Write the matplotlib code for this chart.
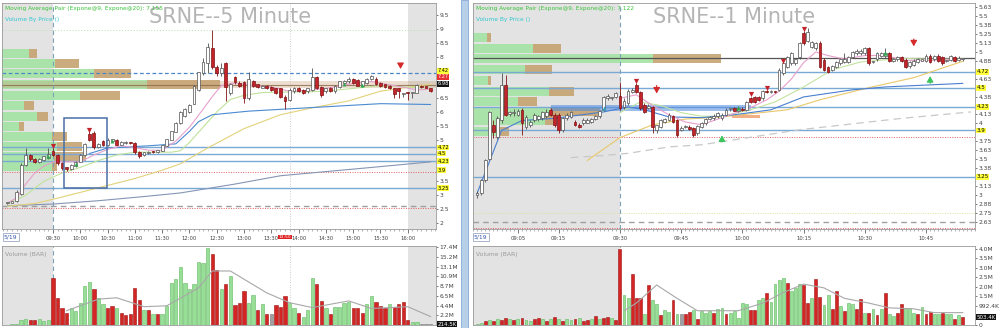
import numpy as np
import matplotlib
matplotlib.use('Agg')
import matplotlib.pyplot as plt
from matplotlib.patches import Rectangle
from matplotlib.ticker import FixedLocator, MultipleLocator, FuncFormatter
import matplotlib.transforms as mtrans

# ---------------- 5 minute chart (bar index, 0 = 09:30) ----------------
left_first = -10
left_open = [2.70, 2.72, 2.78, 3.05, 4.10, 4.45, 4.30, 4.20, 4.28, 4.35,
             4.60, 4.45, 4.15, 4.00, 3.95, 4.05, 4.20, 4.45, 5.20, 5.25,
             4.72, 4.95, 4.80, 4.95, 5.00, 4.82, 4.88, 4.90, 4.88, 4.55,
             4.45, 4.52, 4.58, 4.55, 4.60, 4.78, 5.00, 5.28, 5.60, 5.85,
             6.00, 6.30, 6.78, 7.39, 7.75, 8.30, 7.61, 7.40, 7.76, 6.70,
             7.25, 7.05, 7.07, 6.50, 7.10, 7.00, 6.88, 6.95, 6.90, 6.85,
             6.85, 6.55, 6.45, 6.75, 6.85, 6.80, 6.75, 6.80, 7.25, 6.90,
             6.75, 6.85, 6.75, 6.90, 7.05, 7.10, 7.20, 7.15, 6.95, 7.05,
             7.20, 7.20, 7.05, 7.00, 6.95, 6.85, 6.85, 6.65, 6.70, 6.68,
             6.70, 6.95, 6.92, 6.85]
left_high = [2.75, 2.80, 3.20, 4.15, 4.70, 4.50, 4.35, 4.35, 4.42, 4.70,
             4.70, 4.50, 4.20, 4.02, 4.12, 4.22, 4.48, 4.88, 5.30, 5.30,
             4.88, 4.98, 5.05, 5.04, 5.02, 4.94, 4.94, 4.92, 4.90, 4.58,
             4.57, 4.59, 4.60, 4.64, 4.82, 5.04, 5.32, 5.64, 6.02, 6.15,
             6.27, 6.98, 7.45, 7.95, 8.48, 8.95, 7.70, 7.75, 7.80, 7.05,
             7.30, 7.10, 7.10, 7.43, 7.15, 7.02, 6.98, 6.98, 6.92, 6.87,
             6.88, 6.60, 6.85, 6.90, 6.90, 6.82, 6.88, 7.57, 7.30, 6.95,
             6.88, 6.90, 6.98, 7.12, 7.15, 7.25, 7.22, 7.18, 7.12, 7.22,
             7.35, 7.25, 7.08, 7.02, 6.97, 6.88, 6.88, 6.70, 6.72, 6.72,
             7.00, 6.98, 6.94, 6.88]
left_low = [2.68, 2.70, 2.76, 3.00, 4.05, 4.25, 4.15, 4.15, 4.25, 4.30,
            4.40, 4.10, 3.92, 3.88, 3.92, 4.02, 4.18, 4.40, 4.95, 4.65,
            4.70, 4.78, 4.78, 4.92, 4.80, 4.80, 4.86, 4.86, 4.50, 4.35,
            4.43, 4.50, 4.52, 4.53, 4.58, 4.76, 4.98, 5.26, 5.58, 5.82,
            5.98, 6.28, 6.75, 7.35, 7.40, 7.55, 7.30, 7.30, 6.41, 6.60,
            7.00, 6.90, 6.34, 6.45, 6.90, 6.85, 6.85, 6.82, 6.75, 6.65,
            6.50, 6.12, 6.40, 6.70, 6.72, 6.65, 6.70, 6.75, 6.82, 6.55,
            6.70, 6.72, 6.70, 6.85, 7.00, 7.05, 7.00, 6.92, 6.90, 7.00,
            7.15, 6.98, 6.90, 6.85, 6.82, 6.50, 6.52, 6.55, 6.45, 6.50,
            6.68, 6.88, 6.86, 6.72]
left_close = [2.72, 2.78, 3.10, 4.10, 4.45, 4.30, 4.20, 4.30, 4.40, 4.50,
              4.45, 4.15, 3.98, 3.95, 4.10, 4.20, 4.45, 4.85, 5.00, 4.72,
              4.85, 4.80, 5.00, 5.02, 4.82, 4.92, 4.92, 4.88, 4.55, 4.42,
              4.55, 4.57, 4.54, 4.62, 4.80, 5.02, 5.30, 5.62, 6.00, 6.10,
              6.25, 6.95, 7.43, 7.79, 8.34, 7.61, 7.39, 7.60, 6.89, 7.00,
              7.07, 6.95, 6.49, 7.20, 6.95, 6.90, 6.95, 6.85, 6.80, 6.70,
              6.53, 6.40, 6.80, 6.85, 6.75, 6.70, 6.85, 7.25, 6.85, 6.60,
              6.85, 6.75, 6.95, 7.10, 7.10, 7.20, 7.05, 6.95, 7.10, 7.20,
              7.30, 7.00, 6.95, 6.90, 6.85, 6.65, 6.75, 6.68, 6.68, 6.70,
              6.98, 6.90, 6.88, 6.75]
left_vol = [0.10, 0.15, 0.30, 1.20, 1.40, 1.20, 1.20, 1.40, 1.00, 1.20,
            10.5, 6.1, 3.9, 2.8, 3.7, 3.2, 5.0, 8.8, 9.6, 8.1,
            6.1, 4.8, 3.9, 4.3, 3.7, 2.8, 2.3, 2.5, 8.3, 5.6,
            3.4, 3.4, 2.5, 2.5, 2.5, 4.3, 9.4, 10.3, 13.0, 9.4,
            8.1, 9.2, 14.1, 13.9, 17.2, 15.9, 12.3, 8.1, 9.2, 11.0,
            4.5, 5.0, 7.6, 5.0, 6.8, 3.4, 4.8, 2.5, 2.5, 4.5,
            4.1, 6.5, 5.0, 3.9, 2.8, 1.9, 3.4, 10.5, 9.2, 5.4,
            3.7, 2.5, 4.1, 4.1, 5.0, 5.2, 3.9, 3.7, 2.8, 4.8,
            6.5, 5.2, 4.3, 3.9, 4.8, 4.1, 4.8, 5.2, 1.2, 0.6,
            0.6, 0.3, 0.25, 0.2]
left_vol_col = ("gggggrrggg" "rrrrgggggr" "ggrrgrrrrr" "grgrgggggg" "gggggrrgrg"
                "rrrggrgrnr" "rrggrgggrr" "grggggrrrg" "grrrgrrrrg" "gnnn")
left_volma_k = [3, 10, 14, 20, 25, 32, 35, 39, 47, 52, 57, 65, 70, 78, 83]
left_volma = [3.2, 5.8, 6.1, 4.1, 4.3, 8.3, 12.1, 12.1, 7.2, 5.0, 3.9, 5.4, 3.7, 4.1, 1.9]

left_fast_k = [-10, -8, -6, -4, -2, 0, 3, 6, 9, 12, 15, 18, 21, 24, 27, 30, 33, 35, 37, 40,
               44, 48, 52, 56, 60, 65, 70, 75, 80, 83]
left_fast = [2.72, 2.90, 3.40, 3.80, 4.05, 4.20, 4.20, 4.20, 4.45, 4.65, 4.78, 4.72, 4.62, 4.62,
             4.95, 5.45, 6.10, 6.55, 6.95, 7.05, 6.95, 6.90, 6.75, 6.78, 6.85, 7.00, 7.10, 6.95,
             6.80, 6.82]
left_mid_k = [-10, -6, -2, 2, 6, 10, 14, 18, 22, 26, 28, 30, 33, 36, 39, 42, 46, 50, 55, 60,
              66, 72, 78, 83]
left_mid = [2.68, 3.00, 3.50, 3.80, 4.00, 4.25, 4.45, 4.55, 4.55, 4.55, 4.60, 4.90, 5.45, 6.00,
            6.45, 6.60, 6.70, 6.72, 6.72, 6.75, 6.85, 6.95, 6.90, 6.85]
left_slow_k = [-10, -4, 0, 6, 12, 18, 24, 28, 34, 42, 50, 57, 65, 72, 83]
left_slow = [2.60, 2.70, 2.85, 3.10, 3.35, 3.60, 3.90, 4.13, 4.70, 5.40, 5.90, 6.15, 6.40, 6.75, 7.00]
left_blue_k = [8, 12, 21, 27, 30, 32, 35, 43, 57, 72, 83]
left_blue = [4.50, 4.70, 4.78, 4.85, 5.30, 5.65, 5.90, 6.03, 6.16, 6.30, 6.27]
left_long_k = [-10, 0, 10, 20, 28, 40, 50, 60, 70, 83]
left_long = [2.62, 2.68, 2.80, 2.95, 3.08, 3.40, 3.70, 3.85, 4.00, 4.20]

left_vp_price = [8.12, 7.76, 7.39, 6.99, 6.60, 6.23, 5.84, 5.47, 5.11, 4.75, 4.39, 4.02]
left_vp_up = [3.7, 7.3, 12.7, 20.0, 10.8, 3.0, 4.8, 2.4, 6.9, 7.6, 7.2, 6.9]
left_vp_down = [1.2, 3.3, 5.1, 10.1, 5.5, 1.4, 1.5, 0.7, 2.1, 3.5, 4.4, 0.7]

left_sell_k = [0, 8]
left_sell_p = [4.78, 5.36]
left_buy_k = [-1, 5, 13, 64, 68]
left_buy_p = [4.42, 4.12, 4.97, 7.00, 6.98]
left_time_k = [0, 6, 12, 18, 24, 30, 36, 42, 48, 54, 60, 66, 72, 78]
left_time_lab = ['09:30', '10:00', '10:30', '11:00', '11:30', '12:00', '12:30', '13:00',
                 '13:30', '14:00', '14:30', '15:00', '15:30', '16:00']
left_ticks = [2, 2.5, 3, 3.5, 5, 5.5, 6, 6.5, 8, 8.5, 9, 9.5]

# ---------------- 1 minute chart (bar index, 0 = 09:30) ----------------
right_first = -35
right_open = [2.99, 3.03, 3.20, 3.50, 3.98, 3.81, 4.05, 4.54, 4.13, 4.14,
              4.12, 4.19, 3.95, 3.98, 4.05, 4.06, 4.07, 4.10, 4.19, 4.12,
              4.12, 3.90, 4.07, 4.09, 4.02, 3.98, 4.00, 4.01, 4.02, 4.06,
              4.10, 4.19, 4.35, 4.35, 4.37, 4.39, 4.23, 4.28, 4.44, 4.54,
              4.44, 4.26, 4.22, 4.23, 3.90, 3.95, 4.02, 4.05, 4.10, 4.04,
              3.91, 3.95, 3.95, 3.93, 3.86, 3.95, 4.00, 4.06, 4.07, 4.10,
              4.07, 4.12, 4.20, 4.21, 4.18, 4.20, 4.19, 4.35, 4.37, 4.37,
              4.35, 4.45, 4.44, 4.45, 4.47, 4.70, 4.79, 4.84, 4.84, 4.93,
              5.26, 5.16, 5.07, 5.05, 5.12, 4.89, 4.79, 4.75, 4.79, 4.84,
              4.86, 4.86, 4.93, 4.98, 4.98, 4.98, 5.05, 4.86, 4.90, 4.95,
              4.94, 4.98, 4.88, 4.90, 4.93, 4.89, 4.80, 4.82, 4.86, 4.88,
              4.88, 4.95, 4.90, 4.95, 4.93, 4.87, 4.89, 4.93, 4.89, 4.90]
right_high = [3.05, 3.22, 3.50, 4.18, 4.05, 4.10, 4.70, 4.68, 4.18, 4.20,
              4.20, 4.22, 4.12, 4.05, 4.14, 4.12, 4.18, 4.20, 4.22, 4.15,
              4.14, 4.09, 4.14, 4.18, 4.04, 4.00, 4.07, 4.07, 4.08, 4.12,
              4.19, 4.38, 4.41, 4.37, 4.44, 4.58, 4.35, 4.48, 4.50, 4.56,
              4.46, 4.28, 4.27, 4.25, 3.98, 4.06, 4.08, 4.14, 4.12, 4.06,
              3.96, 3.97, 3.97, 3.95, 3.98, 4.02, 4.08, 4.11, 4.13, 4.16,
              4.14, 4.21, 4.22, 4.23, 4.24, 4.23, 4.32, 4.37, 4.39, 4.39,
              4.47, 4.47, 4.47, 4.46, 4.77, 4.86, 4.95, 5.00, 4.92, 5.14,
              5.29, 5.33, 5.16, 5.14, 5.15, 4.91, 4.81, 4.82, 4.87, 4.92,
              4.98, 4.95, 5.02, 5.04, 5.04, 5.07, 5.07, 4.88, 5.00, 5.00,
              5.05, 5.00, 4.92, 4.95, 4.95, 4.91, 4.88, 4.90, 4.92, 4.89,
              4.97, 4.97, 4.96, 4.97, 4.95, 4.89, 4.96, 4.95, 4.94, 4.92]
right_low = [2.95, 3.00, 3.18, 3.48, 3.80, 3.78, 4.00, 4.10, 4.10, 4.10,
             4.10, 3.83, 3.92, 3.95, 4.02, 4.03, 4.05, 4.08, 4.10, 3.95,
             3.86, 3.88, 4.05, 4.07, 3.96, 3.94, 3.98, 4.00, 4.00, 4.04,
             4.08, 4.17, 4.33, 4.33, 4.35, 4.19, 4.20, 4.26, 4.42, 4.42,
             4.19, 4.14, 4.20, 3.86, 3.86, 3.93, 4.00, 4.03, 4.00, 3.81,
             3.89, 3.93, 3.90, 3.81, 3.84, 3.93, 3.98, 4.04, 4.05, 4.08,
             4.05, 4.10, 4.18, 4.17, 4.16, 4.17, 4.17, 4.28, 4.28, 4.31,
             4.33, 4.42, 4.42, 4.42, 4.45, 4.68, 4.77, 4.82, 4.82, 4.90,
             5.10, 5.14, 5.05, 5.03, 4.77, 4.73, 4.70, 4.73, 4.77, 4.82,
             4.84, 4.84, 4.91, 4.96, 4.96, 4.96, 4.82, 4.84, 4.88, 4.93,
             4.92, 4.86, 4.86, 4.88, 4.86, 4.77, 4.78, 4.80, 4.84, 4.87,
             4.86, 4.84, 4.88, 4.86, 4.82, 4.86, 4.88, 4.86, 4.87, 4.88]
right_close = [3.03, 3.20, 3.48, 4.16, 3.88, 4.07, 4.54, 4.12, 4.16, 4.15,
               4.17, 4.00, 4.09, 4.02, 4.12, 4.10, 4.16, 4.16, 4.12, 3.98,
               3.91, 4.07, 4.12, 4.16, 3.98, 3.95, 4.05, 4.05, 4.06, 4.10,
               4.17, 4.37, 4.39, 4.35, 4.42, 4.21, 4.32, 4.46, 4.47, 4.44,
               4.21, 4.16, 4.25, 3.95, 3.97, 4.04, 4.06, 4.12, 4.02, 3.83,
               3.94, 3.95, 3.92, 3.83, 3.96, 4.00, 4.06, 4.09, 4.11, 4.14,
               4.12, 4.19, 4.20, 4.18, 4.22, 4.19, 4.30, 4.30, 4.30, 4.33,
               4.46, 4.44, 4.45, 4.44, 4.75, 4.84, 4.93, 4.98, 4.90, 5.12,
               5.12, 5.28, 5.14, 5.12, 4.79, 4.75, 4.72, 4.80, 4.86, 4.90,
               4.90, 4.93, 5.00, 5.02, 5.02, 5.05, 4.84, 4.86, 4.98, 4.98,
               4.98, 4.88, 4.90, 4.93, 4.88, 4.79, 4.86, 4.88, 4.90, 4.88,
               4.95, 4.86, 4.95, 4.88, 4.84, 4.88, 4.95, 4.88, 4.92, 4.90]
right_vol = [0.05, 0.12, 0.20, 0.28, 0.20, 0.30, 0.25, 0.35, 0.30, 0.25,
             0.30, 0.35, 0.25, 0.20, 0.30, 0.35, 0.30, 0.20, 0.30, 0.40,
             0.30, 0.20, 0.30, 0.25, 0.30, 0.35, 0.20, 0.25, 0.30, 0.45,
             0.30, 0.35, 0.40, 0.35, 0.25, 4.00, 1.60, 1.40, 2.70, 1.40,
             1.40, 0.60, 2.10, 1.30, 1.10, 0.50, 0.80, 0.70, 1.30, 0.60,
             0.60, 0.60, 0.70, 0.80, 0.30, 0.75, 0.65, 0.75, 0.65, 0.85,
             0.90, 0.60, 0.65, 0.75, 0.35, 1.15, 1.10, 0.80, 0.80, 1.30,
             1.40, 1.70, 1.20, 2.15, 2.35, 2.45, 2.20, 1.80, 1.95, 2.15,
             2.10, 1.15, 1.40, 2.40, 1.45, 1.05, 1.60, 0.85, 1.80, 1.00,
             0.75, 1.15, 1.10, 0.85, 1.35, 0.65, 0.65, 0.85, 0.50, 0.85,
             1.70, 0.60, 0.45, 0.65, 1.10, 0.85, 0.90, 0.65, 0.60, 0.95,
             0.60, 0.70, 0.60, 0.60, 0.65, 0.60, 0.60, 0.30, 0.50, 0.40]
right_vol_col = ("ggrgrgrrgr" "grggrrgrgr" "grggrgrrgr" "grrgrrggrr" "rgrggrggrg"
                 "nrrgrgggrg" "grgggggrrg" "grggggrggg" "rrgrrggrrg" "rggrrgrgrg"
                 "rggrrgggrg" "rrggrggrgr")
right_volma_j = [1, 4, 9, 14, 19, 29, 35, 40, 45, 50, 55, 61, 66, 72, 77, 84]
right_volma = [0.75, 1.15, 2.1, 1.4, 0.75, 0.75, 1.15, 1.7, 2.15, 1.95, 1.4, 1.15, 0.9, 0.85, 0.65, 0.65]

right_fast_j = [0, 4, 8, 12, 16, 20, 24, 28, 32, 36, 39, 42, 45, 48, 51, 55, 60, 65, 70, 75, 84]
right_fast = [4.35, 4.40, 4.25, 4.12, 4.02, 3.98, 4.06, 4.14, 4.22, 4.33, 4.45, 4.62, 4.85, 5.00,
              4.95, 4.90, 4.95, 4.95, 4.88, 4.88, 4.90]
right_mid_j = [0, 5, 10, 15, 20, 25, 32, 38, 45, 52, 59, 69, 76, 84]
right_mid = [4.15, 4.30, 4.25, 4.15, 4.10, 4.10, 4.19, 4.30, 4.51, 4.75, 4.86, 4.91, 4.90, 4.90]
right_slow_j = [-8, 0, 8, 16, 25, 41, 49, 61, 72, 84]
right_slow = [3.48, 3.80, 3.98, 4.06, 4.09, 4.19, 4.33, 4.50, 4.64, 4.87]
right_blue_j = [-35, -29, -24, -16, -4, 2, 6, 12, 20, 28, 37, 45, 57, 65, 84]
right_blue = [3.02, 3.90, 4.04, 4.07, 4.16, 4.23, 4.19, 4.09, 4.08, 4.12, 4.19, 4.37, 4.47, 4.51, 4.56]
right_long_j = [-12, -4, 2, 12, 20, 44, 69, 86]
right_long = [3.52, 3.55, 3.58, 3.67, 3.70, 3.91, 4.07, 4.16]

right_vp_price = [5.20, 5.05, 4.91, 4.75, 4.60, 4.45, 4.30, 4.17, 4.04, 3.88]
right_vp_up = [1.7, 7.2, 21.5, 6.2, 1.8, 9.1, 5.4, 9.2, 8.6, 2.9]
right_vp_down = [0.5, 3.3, 8.2, 3.2, 0.4, 3.0, 2.2, 6.0, 1.0, 1.4]

right_sell_j = [4, 32, 36, 40, 45]
right_sell_p = [4.60, 4.41, 4.50, 4.88, 5.32]
right_buy_j = [29, 65]
right_buy_p = [4.22, 4.98]
right_time_j = [-25, -15, 0, 15, 30, 45, 60, 75]
right_time_lab = ['09:05', '09:15', '09:30', '09:45', '10:00', '10:15', '10:30', '10:45']
right_ticks = [2.625, 2.75, 2.875, 3.0, 3.125, 3.375, 3.5, 3.625, 3.75, 4.0, 4.125,
               4.375, 4.625, 4.875, 5.0, 5.125, 5.25, 5.375, 5.5, 5.625]

key_levels = [4.72, 4.5, 4.23, 3.9, 3.25]
key_labels = ['4.72', '4.5', '4.23', '3.9', '3.25']

GREEN_VOL = ('#97df97', '#62b862')
RED_VOL = ('#d42525', '#9c1212')
GREY_BG = '#e3e3e3'


def candles(ax, x, o, h, l, c, w, min_h):
    o, h, l, c = map(np.asarray, (o, h, l, c))
    up = c >= o
    edge = np.where(up, '#505050', '#7d1414')
    face = np.where(up, '#ffffff', '#c3232a')
    ax.vlines(x, l, h, colors=edge, lw=0.6, zorder=4)
    ax.bar(x, np.maximum(np.abs(c - o), min_h), w, bottom=np.minimum(o, c),
           color=face, edgecolor=edge, lw=0.5, zorder=5)


def volume(ax, x, v, cols, w):
    pal = {'g': GREEN_VOL, 'r': RED_VOL, 'n': ('#a0a0a0', '#787878')}
    ax.bar(x, v, w, color=[pal[k][0] for k in cols], edgecolor=[pal[k][1] for k in cols],
           lw=0.4, zorder=3)


def profile(ax, prices, up, down, height, shades, xlim):
    # volume-by-price on a twin x axis, drawn below the price axes
    pax = ax.twiny()
    ax.set_zorder(2)
    ax.patch.set_visible(False)
    pax.set_zorder(1)
    tr = mtrans.blended_transform_factory(ax.transData, pax.transAxes)
    for a, b in shades:
        pax.add_patch(Rectangle((a, 0), b - a, 1, transform=tr, color=GREY_BG, lw=0, zorder=0))
    pax.barh(prices, up, height, left=0, color='#a3e4a3', alpha=0.9, lw=0, zorder=1)
    pax.barh(prices, down, height, left=up, color='#c6a371', alpha=0.9, lw=0, zorder=1)
    pax.set_xlim(*xlim)
    pax.set_xticks([])
    for s in pax.spines.values():
        s.set_visible(False)
    return pax


def style(ax):
    for s in ax.spines.values():
        s.set_color('#9a9a9a')
        s.set_linewidth(0.6)
    ax.yaxis.tick_right()
    ax.tick_params(axis='y', labelsize=4.3, length=1.5, pad=1, colors='#444444', width=0.5)


def key_label(ax, y, text, fc, tc='#000000', size=4.0):
    ax.text(1.003, y, text, transform=ax.get_yaxis_transform(), fontsize=size, color=tc,
            va='center', ha='left', zorder=10, clip_on=False,
            bbox=dict(boxstyle='square,pad=0.08', fc=fc, ec='none'))


fig = plt.figure(figsize=(10, 3.28), dpi=100)
fig.patch.set_facecolor('white')

top_b, top_h = 1 - 229 / 328, 226 / 328
vol_b, vol_h = 1 - 325 / 328, 79 / 328
axL = fig.add_axes([0.002, top_b, 0.434, top_h])
axLv = fig.add_axes([0.002, vol_b, 0.434, vol_h])
axR = fig.add_axes([0.473, top_b, 0.502, top_h])
axRv = fig.add_axes([0.473, vol_b, 0.502, vol_h])

# ---------------- left price ----------------
lx = np.arange(len(left_open)) + left_first
axL.set_xlim(-11.2, 84.2)
axL.set_ylim(1.78, 9.93)
profile(axL, left_vp_price, left_vp_up, left_vp_down, 0.33, [(-11.2, 0), (78, 84.2)], (0, 60))
axL.axhspan(6.87, 7.11, color='#c9a27a', alpha=0.35, lw=0, zorder=1)
axL.axhline(6.99, color='#8b6a48', lw=0.8, alpha=0.8, zorder=1)
axL.axhline(7.42, color='#4a86c8', lw=0.9, ls=(0, (3, 2)), zorder=1)
axL.axhline(8.95, color='#b6dcb6', lw=0.7, ls=(0, (1, 2)), zorder=1)
for lv in [4.72, 4.5, 4.23, 3.25]:
    axL.axhline(lv, color='#7aa9d6', lw=1.0, zorder=1)
axL.axhline(3.84, color='#e06060', lw=0.7, ls=(0, (1, 1.5)), zorder=1)
axL.axhline(2.60, color='#a0a0a0', lw=1.0, ls=(0, (4, 3)), zorder=1)
axL.axhline(2.54, color='#e06060', lw=0.7, ls=(0, (1, 1.5)), zorder=1)
axL.axvline(0, color='#7aa2b6', lw=0.8, ls=(0, (4, 3)), zorder=1)
axL.axvline(52, color='#bbbbbb', lw=0.6, ls=(0, (1, 2)), zorder=1)
axL.plot(left_long_k, left_long, color='#8595b5', lw=0.8, zorder=2)
axL.plot(left_slow_k, left_slow, color='#e3d27a', lw=0.8, zorder=2)
axL.plot(left_mid_k, left_mid, color='#bfe39a', lw=0.8, zorder=2)
axL.plot(left_blue_k, left_blue, color='#4a8ad0', lw=0.8, zorder=2)
axL.plot(left_fast_k, left_fast, color='#e7a0cc', lw=0.8, zorder=2)
axL.add_patch(Rectangle((2.4, 3.26), 9.5, 2.54, fill=False, ec='#4a6fa5', lw=1.1, zorder=6))
candles(axL, lx, left_open, left_high, left_low, left_close, 0.62, 0.04)
axL.scatter(left_sell_k, left_sell_p, marker='v', s=14, color='#c3232a', zorder=7, lw=0)
axL.scatter(left_buy_k, left_buy_p, marker='^', s=8, color='#2fa84f', zorder=7, lw=0)
axL.annotate('', xy=(76.4, 7.45), xytext=(76.4, 7.80),
             arrowprops=dict(arrowstyle='-|>,head_length=0.35,head_width=0.2', color='#d42a2a', lw=0.8))
style(axL)
axL.yaxis.set_major_locator(FixedLocator(left_ticks))
axL.yaxis.set_major_formatter(FuncFormatter(lambda v, p: '%g' % v))
axL.xaxis.set_major_locator(FixedLocator(left_time_k))
axL.set_xticklabels(left_time_lab)
axL.xaxis.set_minor_locator(MultipleLocator(1))
axL.tick_params(axis='x', which='major', labelsize=3.8, length=3, pad=1.8, colors='#444444', width=0.5)
axL.tick_params(axis='x', which='minor', length=1.5, width=0.4, colors='#777777')
for lv, lab in zip(key_levels, key_labels):
    key_label(axL, lv, lab, '#ffff3a', size=3.8)
key_label(axL, 7.48, '7.42', '#ffff3a', size=3.6)
key_label(axL, 7.27, '7.27', '#e83030', '#ffffff', size=3.6)
key_label(axL, 7.02, '6.98', '#111111', '#ffffff', size=3.6)
axL.text(0.525, 0.94, 'SRNE--5 Minute', transform=axL.transAxes, fontsize=15,
         color='#b4b4b4', ha='center', va='center', zorder=8)
axL.text(0.008, 0.988, 'Moving Average Pair (Expone@9, Expone@20): 7.155', transform=axL.transAxes,
         fontsize=4.2, color='#3cc43c', ha='left', va='top', zorder=8)
axL.text(0.008, 0.94, 'Volume By Price ()', transform=axL.transAxes,
         fontsize=4.2, color='#30c8d0', ha='left', va='top', zorder=8)
axL.text(51.0, -0.036, '13:50', transform=axL.get_xaxis_transform(), fontsize=3.2, color='white',
         ha='center', va='center', zorder=9, clip_on=False,
         bbox=dict(boxstyle='square,pad=0.08', fc='#e02020', ec='none'))

# ---------------- left volume ----------------
axLv.set_xlim(-11.2, 84.2)
axLv.set_ylim(0, 17.7)
axLv.axvspan(-11.2, 0, color=GREY_BG, lw=0, zorder=0)
axLv.axvspan(78, 84.2, color=GREY_BG, lw=0, zorder=0)
axLv.axvline(0, color='#7aa2b6', lw=0.8, ls=(0, (4, 3)), zorder=1)
axLv.axvline(52, color='#bbbbbb', lw=0.6, ls=(0, (1, 2)), zorder=1)
volume(axLv, lx, left_vol, left_vol_col, 0.72)
axLv.plot(left_volma_k, left_volma, color='#a8a8a8', lw=0.8, zorder=4)
style(axLv)
axLv.set_xticks([])
lv_ticks = [2.175 * i for i in range(1, 9)]
axLv.set_yticks(lv_ticks)
axLv.set_yticklabels(['2.2M', '4.4M', '6.5M', '8.7M', '10.9M', '13.1M', '15.2M', '17.4M'])
key_label(axLv, 0.2145, '214.5K', '#111111', '#ffffff')
axLv.text(0.008, 0.93, 'Volume (BAR)', transform=axLv.transAxes, fontsize=4.3, color='#999999',
          ha='left', va='top')

# ---------------- right price ----------------
rx = np.arange(len(right_open)) + right_first
axR.set_xlim(-36.0, 87.0)
axR.set_ylim(2.52, 5.686)
profile(axR, right_vp_price, right_vp_up, right_vp_down, 0.125, [(-36.0, 0)], (0, 60))
axR.axhline(4.92, color='#555555', lw=0.9, zorder=1)
for lv in key_levels:
    axR.axhline(lv, color='#7aa9d6', lw=1.0, zorder=1)
axR.axhline(3.81, color='#e06060', lw=0.7, ls=(0, (1, 1.5)), zorder=1)
axR.axhline(2.74, color='#dede9a', lw=0.7, ls=(0, (1, 1.5)), zorder=1)
axR.axhline(2.62, color='#a0a0a0', lw=1.0, ls=(0, (4, 3)), zorder=1)
axR.axhline(2.535, color='#e06060', lw=0.7, ls=(0, (1, 1.5)), zorder=1)
axR.axvline(0, color='#7aa2b6', lw=0.8, ls=(0, (4, 3)), zorder=1)
axR.add_patch(Rectangle((-17, 4.17), 49, 0.09, color='#4f8be0', alpha=0.55, lw=0, zorder=1.5))
axR.add_patch(Rectangle((27.5, 4.07), 6.8, 0.045, color='#f0a070', alpha=0.85, lw=0, zorder=1.5))
axR.plot(right_long_j, right_long, color='#c8c8c8', lw=0.9, ls=(0, (6, 4)), zorder=2)
axR.plot(right_slow_j, right_slow, color='#e8c86a', lw=0.8, zorder=2)
axR.plot(right_mid_j, right_mid, color='#c3e3a0', lw=0.8, zorder=2)
axR.plot(right_blue_j, right_blue, color='#4a7fcf', lw=0.8, zorder=2)
axR.plot(right_fast_j, right_fast, color='#e7a0cc', lw=0.8, zorder=2)
candles(axR, rx, right_open, right_high, right_low, right_close, 0.68, 0.015)
axR.scatter(right_sell_j, right_sell_p, marker='v', s=14, color='#c3232a', zorder=7, lw=0)
axR.scatter(right_buy_j, right_buy_p, marker='^', s=10, color='#2fa84f', zorder=7, lw=0)
axR.scatter([-4], [4.21], marker='^', s=10, color='#3aa0c0', zorder=7, lw=0)
for xj, tail, tip, col in [(9, 4.57, 4.38, '#d42a2a'), (72, 5.22, 5.04, '#d42a2a'),
                           (25, 3.70, 3.87, '#3cc45c'), (76, 4.52, 4.70, '#3cc45c')]:
    axR.annotate('', xy=(xj, tip), xytext=(xj, tail),
                 arrowprops=dict(arrowstyle='-|>,head_length=0.35,head_width=0.2', color=col, lw=0.8))
style(axR)
axR.yaxis.set_major_locator(FixedLocator(right_ticks))
axR.yaxis.set_major_formatter(FuncFormatter(lambda v, p: ('%.2f' % (v + 1e-6)).rstrip('0').rstrip('.')))
axR.xaxis.set_major_locator(FixedLocator(right_time_j))
axR.set_xticklabels(right_time_lab)
axR.xaxis.set_minor_locator(MultipleLocator(1))
axR.tick_params(axis='x', which='major', labelsize=3.8, length=3, pad=1.8, colors='#444444', width=0.5)
axR.tick_params(axis='x', which='minor', length=1.5, width=0.4, colors='#777777')
for lv, lab in zip(key_levels, key_labels):
    key_label(axR, lv, lab, '#ffff3a')
axR.text(0.52, 0.94, 'SRNE--1 Minute', transform=axR.transAxes, fontsize=15,
         color='#b4b4b4', ha='center', va='center', zorder=8)
axR.text(0.006, 0.988, 'Moving Average Pair (Expone@9, Expone@20): 7.122', transform=axR.transAxes,
         fontsize=4.2, color='#3cc43c', ha='left', va='top', zorder=8)
axR.text(0.006, 0.94, 'Volume By Price ()', transform=axR.transAxes,
         fontsize=4.2, color='#30c8d0', ha='left', va='top', zorder=8)

# ---------------- right volume ----------------
axRv.set_xlim(-36.0, 87.0)
axRv.set_ylim(0, 4.15)
axRv.axvspan(-36.0, 0, color=GREY_BG, lw=0, zorder=0)
axRv.axvline(0, color='#7aa2b6', lw=0.8, ls=(0, (4, 3)), zorder=1)
volume(axRv, rx, right_vol, right_vol_col, 0.7)
axRv.plot(right_volma_j, right_volma, color='#a8a8a8', lw=0.8, zorder=4)
style(axRv)
axRv.set_xticks([])
axRv.set_yticks([0, 0.9924, 1.5, 2.0, 2.5, 3.0, 3.5, 4.0])
axRv.set_yticklabels(['0', '992.4K', '1.5M', '2.0M', '2.5M', '3.0M', '3.5M', '4.0M'])
key_label(axRv, 0.42, '503.4K', '#111111', '#ffffff')
axRv.text(0.006, 0.93, 'Volume (BAR)', transform=axRv.transAxes, fontsize=4.3, color='#999999',
          ha='left', va='top')

# date tags and panel separator
for fx in (0.004, 0.474):
    fig.text(fx, 1 - 237 / 328, '5/19', fontsize=4.3, color='#3355aa', va='center',
             bbox=dict(boxstyle='square,pad=0.2', fc='white', ec='#8899bb', lw=0.5))
fig.patches.append(Rectangle((0.4605, 0), 0.0075, 1, transform=fig.transFigure,
                             fc='#b7d0ea', ec='#86aad4', lw=0.6))

fig.savefig('out.png', dpi=100)
